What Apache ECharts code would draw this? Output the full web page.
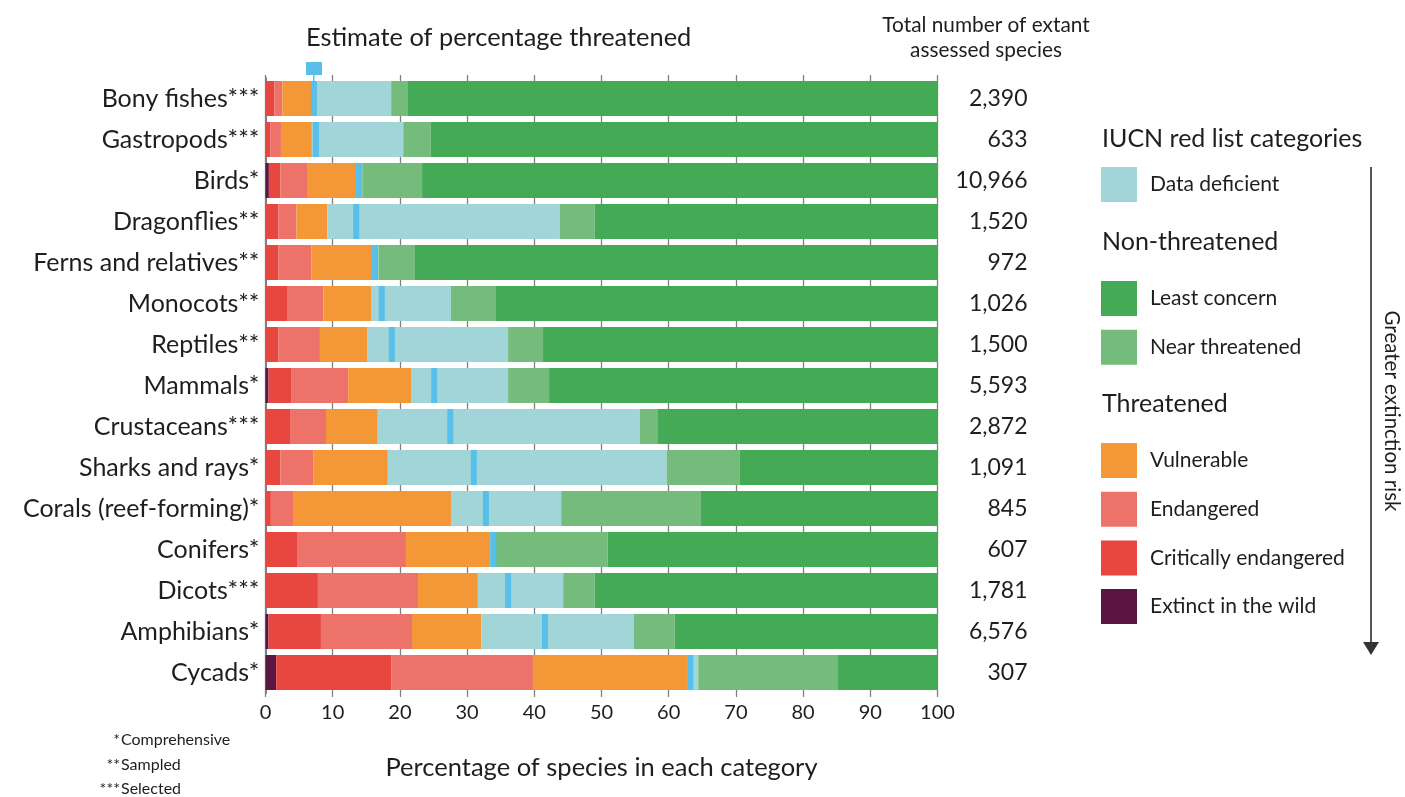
<!DOCTYPE html>
<html><head><meta charset="utf-8">
<script src="https://cdn.jsdelivr.net/npm/echarts@6/dist/echarts.min.js"></script>
<style>html,body{margin:0;padding:0;background:#fff}#c{width:1405px;height:797px}</style>
</head><body><div id="c"></div>
<script>
const categories = ['Bony fishes***','Gastropods***','Birds*','Dragonflies**','Ferns and relatives**','Monocots**','Reptiles**','Mammals*','Crustaceans***','Sharks and rays*','Corals (reef-forming)*','Conifers*','Dicots***','Amphibians*','Cycads*'];
const totals = ['2,390','633','10,966','1,520','972','1,026','1,500','5,593','2,872','1,091','845','607','1,781','6,576','307'];
const extinctWild = [0,0,0.5,0,0,0,0,0.45,0,0,0,0,0,0.45,1.6];
const critEndangered = [1.3,0.7,1.7,1.9,1.9,3.2,1.9,3.35,3.65,2.2,0.8,4.8,7.8,7.8,17.1];
const endangered = [1.2,1.6,4.1,2.7,4.9,5.4,6.2,8.5,5.35,4.9,3.3,16.1,14.9,13.55,21.1];
const vulnerable = [4.3,4.6,7.2,4.6,9.1,7.1,7.1,9.35,7.7,11.1,23.5,12.5,8.9,10.3,23.0];
const dataDeficient = [11.9,13.6,0.9,34.6,0.9,11.9,20.9,14.45,39.0,41.5,16.4,0.9,12.7,22.7,1.6];
const nearThreatened = [2.5,4.1,8.9,5.2,5.35,6.6,5.2,6.1,2.6,10.9,20.8,16.6,4.7,6.1,20.8];
const leastConcern = [78.8,75.4,76.7,51.0,77.85,65.8,58.7,57.8,41.7,29.4,35.2,49.1,51.0,39.1,14.8];
const estimateThreatened = [7.2,7.5,13.9,13.5,16.3,17.3,18.8,25.1,27.5,31.0,32.8,33.9,36.1,41.6,63.2];
const xTicks = [0,10,20,30,40,50,60,70,80,90,100];

const FONT = 'Lato';
const TXT = '#1e1e1e';
const colors = {
  'Extinct in the wild':'#5A1541','Critically endangered':'#E8473F','Endangered':'#ED726A',
  'Vulnerable':'#F39737','Data deficient':'#A1D5D8','Near threatened':'#74BB7C','Least concern':'#45AA56'
};
const seriesData = [
  ['Extinct in the wild', extinctWild],['Critically endangered', critEndangered],['Endangered', endangered],
  ['Vulnerable', vulnerable],['Data deficient', dataDeficient],['Near threatened', nearThreatened],['Least concern', leastConcern]
];
const series = seriesData.map(([name, d]) => ({
  name, type:'bar', stack:'s', data:d, barWidth:35, itemStyle:{color:colors[name]},
  emphasis:{disabled:true}, animation:false
}));
series.push({
  name:'Estimate', type:'scatter', symbol:'rect', symbolSize:[6,35], z:5,
  itemStyle:{color:'#58BFEA', opacity:1},
  data: estimateThreatened.map((v,i)=>[v, categories[i]]), animation:false
});

const legendCommon = {
  orient:'vertical', icon:'rect', itemWidth:36, itemHeight:35, itemGap:13.7, padding:0,
  selectedMode:false, textStyle:{fontFamily:FONT, fontSize:21, color:TXT, padding:[0,0,0,8]}
};

const chart = echarts.init(document.getElementById('c'), null, {renderer:'canvas'});
chart.setOption({
  backgroundColor:'#fff',
  textStyle:{fontFamily:FONT},
  grid:{left:265.5, right:467.5, top:78, bottom:104, containLabel:false},
  legend:[
    Object.assign({left:1101, top:167, data:['Data deficient']}, legendCommon),
    Object.assign({left:1101, top:281, data:['Least concern','Near threatened']}, legendCommon),
    Object.assign({left:1101, top:443, data:['Vulnerable','Endangered','Critically endangered','Extinct in the wild']}, legendCommon)
  ],
  xAxis:[
    {type:'value', min:xTicks[0], max:xTicks[xTicks.length-1], interval:10, position:'bottom',
     axisLine:{show:false}, axisTick:{show:true, length:4, lineStyle:{color:'#808080', width:1.3}},
     splitLine:{show:true, lineStyle:{color:'#808080', width:1.3}},
     axisLabel:{fontFamily:FONT, fontSize:20, color:TXT, margin:10},
     name:'Percentage of species in each category', nameLocation:'middle', nameGap:62,
     nameTextStyle:{fontFamily:FONT, fontSize:25.5, color:TXT}},
    {type:'value', min:xTicks[0], max:xTicks[xTicks.length-1], interval:10, position:'top',
     axisLine:{show:false}, axisTick:{show:true, length:3, lineStyle:{color:'#808080', width:1.3}},
     splitLine:{show:false}, axisLabel:{show:false}}
  ],
  yAxis:[
    {type:'category', data:categories, inverse:true,
     axisLine:{show:true, lineStyle:{color:'#808080', width:2}}, axisTick:{show:false},
     axisLabel:{fontFamily:FONT, fontSize:25, color:TXT, margin:6}},
    {type:'category', data:totals, inverse:true, position:'right',
     axisLine:{show:false}, axisTick:{show:false},
     axisLabel:{fontFamily:FONT, fontSize:23, color:TXT, margin:90, align:'right'}}
  ],
  series,
  graphic:[
    {type:'text', x:306, y:38, style:{text:'Estimate of percentage threatened', font:'25.4px '+FONT, fill:TXT, verticalAlign:'middle'}},
    {type:'rect', shape:{x:306, y:62, width:16, height:13}, style:{fill:'#58BFEA'}},
    {type:'rect', shape:{x:313, y:75, width:1.5, height:6}, style:{fill:'#58BFEA'}},
    {type:'text', x:986, y:25, style:{text:'Total number of extant', font:'20.8px '+FONT, fill:TXT, align:'center', verticalAlign:'middle'}},
    {type:'text', x:986, y:50, style:{text:'assessed species', font:'20.8px '+FONT, fill:TXT, align:'center', verticalAlign:'middle'}},
    {type:'text', x:1102, y:139, style:{text:'IUCN red list categories', font:'25px '+FONT, fill:TXT, verticalAlign:'middle'}},
    {type:'text', x:1102, y:242, style:{text:'Non-threatened', font:'25px '+FONT, fill:TXT, verticalAlign:'middle'}},
    {type:'text', x:1102, y:404, style:{text:'Threatened', font:'25px '+FONT, fill:TXT, verticalAlign:'middle'}},
    {type:'line', shape:{x1:1371, y1:167, x2:1371, y2:645}, style:{stroke:'#555', lineWidth:2}},
    {type:'polygon', shape:{points:[[1363,642],[1379,642],[1371,655]]}, style:{fill:'#333'}},
    {type:'text', x:1392, y:411, rotation:-Math.PI/2, style:{text:'Greater extinction risk', font:'20.5px '+FONT, fill:TXT, align:'center', verticalAlign:'middle'}},
    {type:'text', x:121, y:740, style:{text:'Comprehensive', font:'16px '+FONT, fill:TXT, verticalAlign:'middle'}},
    {type:'text', x:120, y:740, style:{text:'*', font:'16px '+FONT, fill:TXT, align:'right', verticalAlign:'middle'}},
    {type:'text', x:121, y:765, style:{text:'Sampled', font:'16px '+FONT, fill:TXT, verticalAlign:'middle'}},
    {type:'text', x:120, y:765, style:{text:'**', font:'16px '+FONT, fill:TXT, align:'right', verticalAlign:'middle'}},
    {type:'text', x:121, y:789, style:{text:'Selected', font:'16px '+FONT, fill:TXT, verticalAlign:'middle'}},
    {type:'text', x:120, y:789, style:{text:'***', font:'16px '+FONT, fill:TXT, align:'right', verticalAlign:'middle'}}
  ]
});
</script></body></html>
